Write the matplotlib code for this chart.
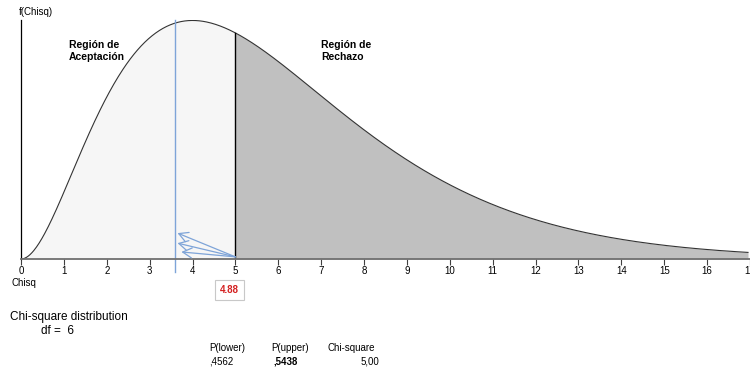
import numpy as np
import matplotlib.pyplot as plt
from math import gamma

plt.rcParams['font.family'] = ['Liberation Sans', 'DejaVu Sans']

# distribution parameters and results
df = 6
chi_value = 5.00
marker_x = 3.6
label_value = "4.88"
p_lower = ",4562"
p_upper = ",5438"
chi_text = "5,00"
x_ticks = list(range(0, 18))
arrow_tips_x = [3.65, 3.65, 3.74]
arrow_tips_y = [0.0147, 0.0090, 0.0040]

def chi2_pdf(x, k):
    x = np.asarray(x, dtype=float)
    return np.where(x > 0, x ** (k / 2 - 1) * np.exp(-x / 2) / (2 ** (k / 2) * gamma(k / 2)), 0.0)

fig = plt.figure(figsize=(7.5, 3.69), dpi=100)
W, H = 750, 369
x_left, x_right = 21, 750
y_base, y_top = 259, 20
ax = fig.add_axes([x_left / W, 1 - y_base / H, (x_right - x_left) / W, (y_base - y_top) / H])

px_per_unit = 43.0
xmax = (x_right - x_left) / px_per_unit
ymax = 0.1356
ax.set_xlim(0, xmax)
ax.set_ylim(0, ymax)

xs = np.linspace(0, xmax, 800)
ys = chi2_pdf(xs, df)

xa = xs[xs <= chi_value]
xa = np.append(xa, chi_value)
ax.fill_between(xa, chi2_pdf(xa, df), 0, color='#f6f6f6', lw=0)
xb = np.concatenate([[chi_value], xs[xs > chi_value]])
ax.fill_between(xb, chi2_pdf(xb, df), 0, color='#c0c0c0', lw=0)
ax.plot(xs, ys, color='#333333', lw=0.8)
ax.plot([chi_value, chi_value], [0, float(chi2_pdf(chi_value, df))], color='black', lw=1.0)

# marker line and arrows
blue = '#7ea4d8'
ax.plot([marker_x, marker_x], [-0.0075, ymax], color=blue, lw=1.0, clip_on=False)
for tx, ty in zip(arrow_tips_x, arrow_tips_y):
    ax.annotate('', xy=(tx, ty), xytext=(chi_value, 0.0012),
                arrowprops=dict(arrowstyle='->,head_length=0.55,head_width=0.3', color=blue,
                                lw=0.9, mutation_scale=12, shrinkA=0, shrinkB=0))

for s in ['top', 'right']:
    ax.spines[s].set_visible(False)
ax.spines['left'].set_color('black')
ax.spines['left'].set_linewidth(0.9)
ax.spines['bottom'].set_color('#707070')
ax.spines['bottom'].set_linewidth(1.3)
ax.set_yticks([])
ax.set_xticks(x_ticks)
ax.set_xticklabels([str(t) for t in x_ticks])
ax.tick_params(axis='x', direction='out', length=4, width=0.8, color='#404040',
               labelsize=7, pad=1)
for lbl in ax.get_xticklabels():
    lbl.set_clip_on(False)

def px(x, y):
    return x / W, 1 - y / H

fig.text(*px(19, 12), "f(Chisq)", fontsize=7, va='center', ha='left')
fig.text(*px(12, 283), "Chisq", fontsize=7, va='center', ha='left')
fig.text(*px(69, 51), "Región de\nAceptación", fontsize=7.5, fontweight='bold',
         va='center', ha='left', linespacing=1.25)
fig.text(*px(321, 51), "Región de\nRechazo", fontsize=7.5, fontweight='bold',
         va='center', ha='left', linespacing=1.25)

fig.text(*px(229.5, 290), label_value, fontsize=7, fontweight='bold', color='#d42020',
         va='center', ha='center',
         bbox=dict(boxstyle='square,pad=0.55', fc='white', ec='#c8c8c8', lw=0.8))

fig.text(*px(10, 317), "Chi-square distribution", fontsize=8.5, va='center', ha='left')
fig.text(*px(41, 331), "df =  " + str(df), fontsize=8.5, va='center', ha='left')

fig.text(*px(209, 348), "P(lower)", fontsize=7, va='center', ha='left')
fig.text(*px(209, 361), p_lower, fontsize=7, va='center', ha='left')
fig.text(*px(271, 348), "P(upper)", fontsize=7, va='center', ha='left')
fig.text(*px(273, 361), p_upper, fontsize=7, fontweight='bold', va='center', ha='left')
fig.text(*px(327, 348), "Chi-square", fontsize=7, va='center', ha='left')
fig.text(*px(379, 361), chi_text, fontsize=7, va='center', ha='right')

fig.savefig('out.png', dpi=100)
